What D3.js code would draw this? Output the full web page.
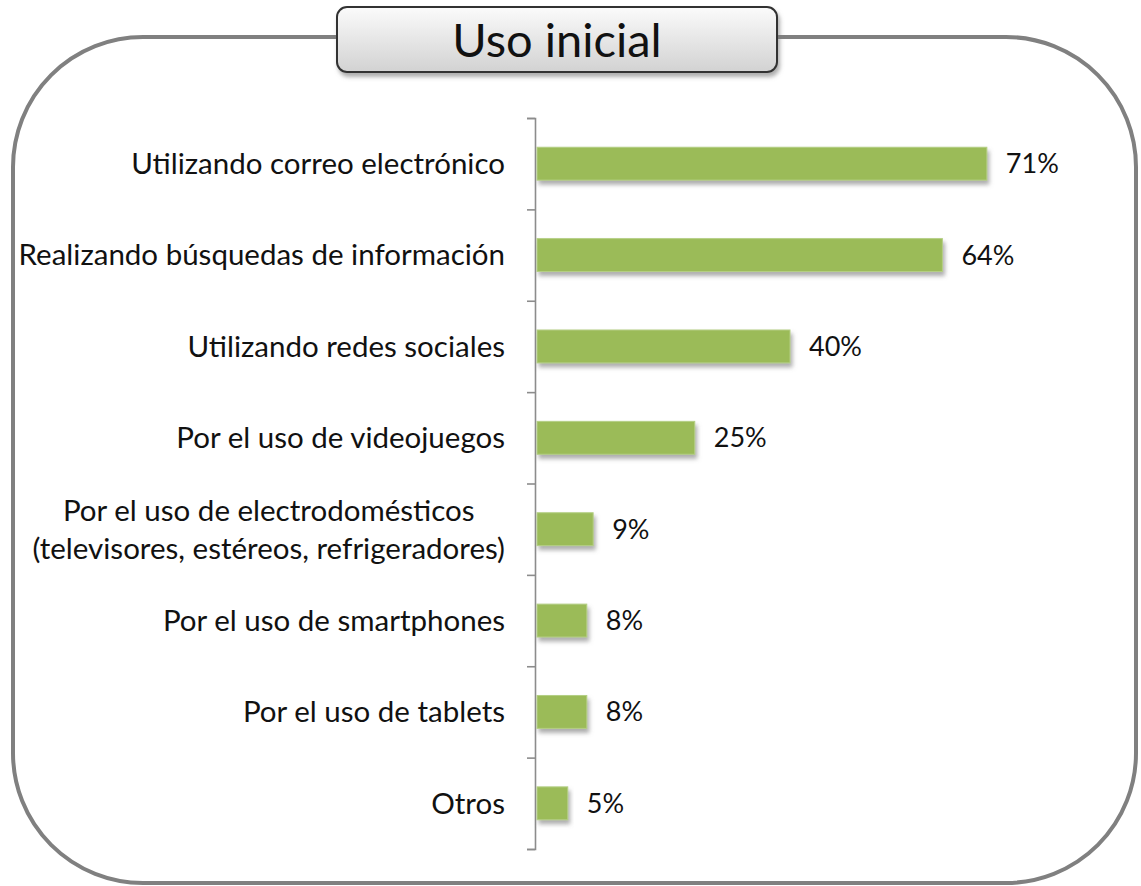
<!DOCTYPE html>
<html>
  <head>
    <meta http-equiv="Content-type" content="text/html; charset=utf-8">
    <title>Uso inicial</title>
    <script src="https://d3js.org/d3.v7.min.js"></script>
    <style>
      body { margin: 0; background: #fff; }
      text { font-family: Lato, "Open Sans", sans-serif; fill: #111; }
    </style>
  </head>
  <body>
  <div id="chart"></div>
  <script type="text/javascript">
    var title = 'Uso inicial';
    var categories = [
      'Utilizando correo electrónico',
      'Realizando búsquedas de información',
      'Utilizando redes sociales',
      'Por el uso de videojuegos',
      'Por el uso de electrodomésticos\n(televisores, estéreos, refrigeradores)',
      'Por el uso de smartphones',
      'Por el uso de tablets',
      'Otros'
    ];
    var values = [71, 64, 40, 25, 9, 8, 8, 5];

    (function(d3) {
      'use strict';
      var width = 1141;
      var height = 886;
      var labelSize = 29.5;
      var valueSize = 27;

      var svg = d3.select('#chart')
        .append('svg')
        .attr('width', width)
        .attr('height', height);

      var defs = svg.append('defs');
      defs.append('filter')
        .attr('id', 'shadow')
        .attr('x', '-10%').attr('y', '-30%')
        .attr('width', '130%').attr('height', '180%')
        .append('feDropShadow')
        .attr('dx', 2).attr('dy', 4)
        .attr('stdDeviation', 2)
        .attr('flood-color', '#777')
        .attr('flood-opacity', 0.6);
      var grad = defs.append('linearGradient')
        .attr('id', 'titleGrad')
        .attr('x1', 0).attr('y1', 0).attr('x2', 0).attr('y2', 1);
      grad.append('stop').attr('offset', '0%').attr('stop-color', '#fbfbfb');
      grad.append('stop').attr('offset', '100%').attr('stop-color', '#d2d2d2');

      // outer frame
      svg.append('rect')
        .attr('x', 13).attr('y', 37)
        .attr('width', 1123).attr('height', 846)
        .attr('rx', 130).attr('ry', 130)
        .attr('fill', '#fff')
        .attr('stroke', '#808080')
        .attr('stroke-width', 4);

      // title box
      svg.append('rect')
        .attr('x', 337).attr('y', 7)
        .attr('width', 440).attr('height', 65)
        .attr('rx', 10).attr('ry', 10)
        .attr('fill', 'url(#titleGrad)')
        .attr('stroke', '#333')
        .attr('stroke-width', 2)
        .attr('filter', 'url(#shadow)');
      svg.append('text')
        .attr('x', 557).attr('y', 57)
        .attr('text-anchor', 'middle')
        .style('font-size', '47px')
        .text(title);

      var y = d3.scaleBand()
        .domain(categories)
        .range([118, 849])
        .paddingInner(0.64)
        .paddingOuter(0.32);

      var x = d3.scaleLinear()
        .domain([0, 100])
        .range([536, 1171]);

      // axis with ticks on category boundaries
      var edges = d3.scaleLinear()
        .domain([0, categories.length])
        .range(y.range());
      svg.append('g')
        .attr('transform', 'translate(535,0)')
        .call(d3.axisLeft(edges)
          .tickValues(d3.range(categories.length + 1))
          .tickSize(8)
          .tickFormat(''))
        .call(function(g) {
          g.selectAll('path, line')
            .attr('stroke', '#8c8c8c')
            .attr('stroke-width', 1.6);
        });

      var rows = svg.selectAll('g.row')
        .data(categories)
        .enter()
        .append('g')
        .attr('class', 'row');

      rows.append('rect')
        .attr('x', x(0) + 1)
        .attr('y', function(d) { return y(d); })
        .attr('width', function(d, i) { return x(values[i]) - x(0) - 1; })
        .attr('height', y.bandwidth())
        .attr('fill', '#9bbb59')
        .attr('stroke', '#b5cf85')
        .attr('stroke-width', 1)
        .attr('filter', 'url(#shadow)');

      rows.append('text')
        .attr('x', function(d, i) { return x(values[i]) + 19; })
        .attr('y', function(d) { return y(d) + y.bandwidth() / 2; })
        .attr('dy', '0.35em')
        .style('font-size', valueSize + 'px')
        .text(function(d, i) { return values[i] + '%'; });

      // category labels (multi-line ones are centered on the widest line)
      rows.each(function(d) {
        var lines = d.split('\n');
        var cy = y(d) + y.bandwidth() / 2;
        var lh = 38;
        var t = d3.select(this).append('text')
          .style('font-size', labelSize + 'px')
          .attr('text-anchor', lines.length > 1 ? 'middle' : 'end');
        lines.forEach(function(line, k) {
          t.append('tspan')
            .attr('x', 505)
            .attr('y', cy + (k - (lines.length - 1) / 2) * lh)
            .attr('dy', '0.35em')
            .text(line);
        });
        if (lines.length > 1) {
          var w = d3.max(t.selectAll('tspan').nodes(), function(n) {
            return n.getComputedTextLength();
          });
          t.selectAll('tspan').attr('x', 505 - w / 2);
        }
      });
    })(window.d3);
  </script>
  </body>
</html>
